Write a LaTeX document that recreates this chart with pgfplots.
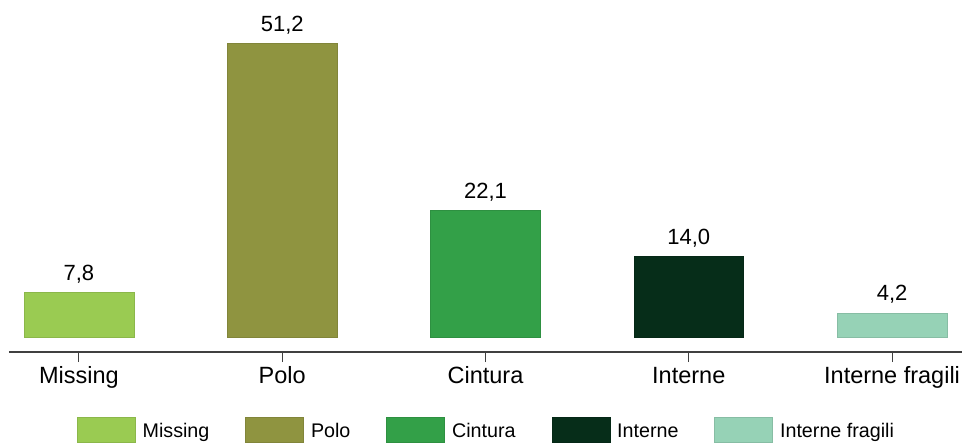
\documentclass[border=0pt]{standalone}
\usepackage{fontspec}
\setmainfont{Liberation Sans}
\usepackage{pgfplots}
\pgfplotsset{compat=1.18}
\definecolor{cMiss}{RGB}{154,203,82}
\definecolor{cPolo}{RGB}{143,148,64}
\definecolor{cCint}{RGB}{51,160,72}
\definecolor{cInt}{RGB}{6,45,25}
\definecolor{cFrag}{RGB}{150,210,182}
\begin{document}
\begin{tikzpicture}
\useasboundingbox (-4.5pt,-45.5pt) rectangle (479pt,176pt);
\begin{axis}[
  scale only axis, width=476.5pt, height=176pt,
  xmin=-0.344, xmax=4.344, ymin=-2.61, ymax=58.7,
  axis x line=bottom, axis y line=none,
  axis line style={-, draw=black!75, line width=0.6pt},
  xtick={0,1,2,3,4},
  xticklabels={Missing,Polo,Cintura,Interne,Interne fragili},
  tick align=outside, major tick length=5pt,
  tick style={draw=black!75, line width=0.5pt},
  x tick label style={font=\fontsize{11.75}{14}\selectfont, anchor=base, inner sep=0pt, yshift=-11pt},
  ybar, bar width=0.541, bar shift=0pt,
  /pgf/number format/fixed, /pgf/number format/fixed zerofill,
  /pgf/number format/precision=1, /pgf/number format/use comma,
  /pgf/number format/assume math mode=true,
  nodes near coords,
  nodes near coords style={font=\fontsize{11}{13}\selectfont, anchor=base, inner sep=0pt, yshift=6pt, text=black},
  legend columns=5,
  legend style={at={(0.5,-0.2585)}, anchor=south, draw=none, fill=none, inner sep=0pt,
    font=\fontsize{9.85}{12}\selectfont, nodes={inner sep=0pt},
    /tikz/every odd column/.append style={column sep=3.5pt},
    /tikz/every even column/.append style={column sep=18pt}},
  legend image code/.code={\draw[#1] (0pt,-5pt) rectangle (29pt,7.5pt);},
]
\addplot[fill=cMiss, draw=cMiss!90!black, line width=0.3pt] coordinates {(0,7.8)};
\addlegendentry{Missing}
\addplot[fill=cPolo, draw=cPolo!90!black, line width=0.3pt] coordinates {(1,51.2)};
\addlegendentry{Polo}
\addplot[fill=cCint, draw=cCint!90!black, line width=0.3pt] coordinates {(2,22.1)};
\addlegendentry{Cintura}
\addplot[fill=cInt, draw=cInt!90!black, line width=0.3pt] coordinates {(3,14.0)};
\addlegendentry{Interne}
\addplot[fill=cFrag, draw=cFrag!90!black, line width=0.3pt] coordinates {(4,4.2)};
\addlegendentry{Interne fragili}
\end{axis}
\end{tikzpicture}
\end{document}
